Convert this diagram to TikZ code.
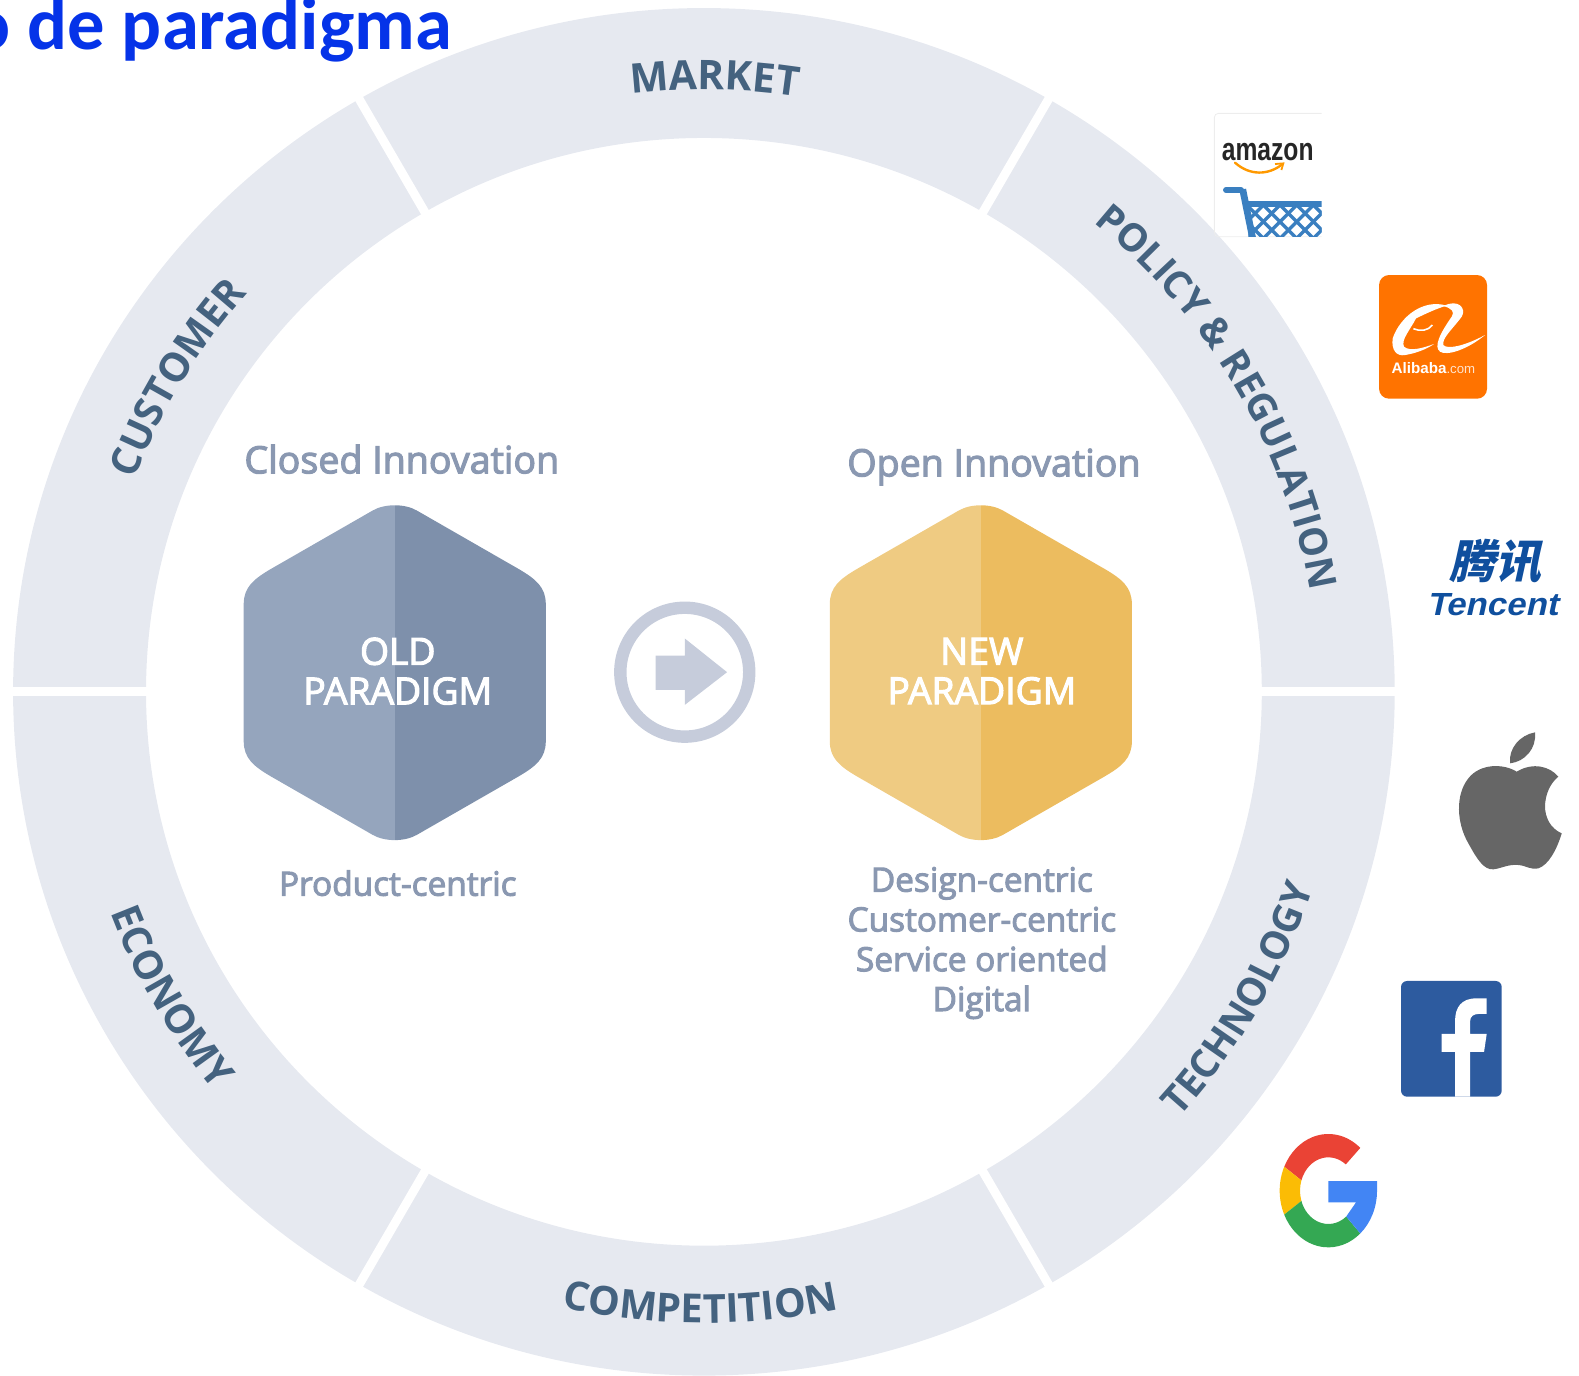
\documentclass[tikz,border=0pt]{standalone}
\usepackage{fontspec}
\usetikzlibrary{decorations.text}
\setmainfont{Open Sans}
\newfontfamily\capfont[FakeBold=3]{Open Sans}
\newfontfamily\titlefont{Carlito}
\newfontfamily\azfont[FakeStretch=0.77]{Liberation Sans}
\newfontfamily\alifont{Liberation Sans}
\newfontfamily\tenfont[FakeSlant=0.22,FakeStretch=1.09]{Liberation Sans}
\newfontfamily\cjkfont[FakeSlant=0.22]{Noto Sans CJK SC}
\definecolor{ringc}{HTML}{E6E9F0}
\definecolor{ringt}{HTML}{44627F}
\definecolor{capc}{HTML}{8A98B1}
\definecolor{oldl}{HTML}{95A5BD}
\definecolor{oldr}{HTML}{7E90AB}
\definecolor{newl}{HTML}{EFCB82}
\definecolor{newr}{HTML}{ECBC5F}
\definecolor{arrc}{HTML}{C6CCDB}
\definecolor{titlec}{HTML}{0533E8}
\definecolor{azblue}{HTML}{3A7FC0}
\definecolor{aliorg}{HTML}{FF7300}
\definecolor{tenblue}{HTML}{0F4F9E}
\definecolor{fbblue}{HTML}{2D5B9F}
\definecolor{gred}{HTML}{EA4335}
\definecolor{gyel}{HTML}{FBBC05}
\definecolor{ggrn}{HTML}{34A853}
\definecolor{gblu}{HTML}{4285F4}
\tikzset{
  ringtext/.style n args={2}{decorate,decoration={text along path,text align=center,text={|\fontsize{#1}{#1}\selectfont\bfseries\color{ringt}|#2}}},
  capt/.style={text=capc,font=\capfont\fontsize{16.7}{19.9}\selectfont,align=center,inner sep=0pt},
  capbig/.style={text=capc,font=\capfont\fontsize{18.8}{20}\selectfont,inner sep=0pt,anchor=base},
  hextext/.style={text=white,font=\capfont\fontsize{18.6}{19.8}\selectfont,align=center,inner sep=0pt},
  zoomA/.style={shift={(1171.8,89.4)},x=.16667pt,y=-.16667pt},
  zoomB/.style={shift={(1370.4,496.5)},x=.16667pt,y=-.16667pt},
  zoomC/.style={shift={(1241.3,953.3)},x=.16667pt,y=-.16667pt},
}
\newcommand{\hexpath}[2]{(#1-22,#2-161) .. controls (#1-10,#2-168) and (#1+10,#2-168) .. (#1+22,#2-161) -- (#1+123,#2-103) .. controls (#1+140,#2-93) and (#1+150,#2-85) .. (#1+150,#2-68) -- (#1+150,#2+68) .. controls (#1+150,#2+85) and (#1+140,#2+93) .. (#1+123,#2+103) -- (#1+22,#2+161) .. controls (#1+10,#2+168) and (#1-10,#2+168) .. (#1-22,#2+161) -- (#1-123,#2+103) .. controls (#1-140,#2+93) and (#1-150,#2+85) .. (#1-150,#2+68) -- (#1-150,#2-68) .. controls (#1-150,#2-85) and (#1-140,#2-93) .. (#1-123,#2-103) -- cycle}
\begin{document}
\begin{tikzpicture}[x=.5035pt,y=-.5035pt]
\useasboundingbox (0,0) rectangle (1568,1365.6);
\clip (0,0) rectangle (1568,1365.6);
\coordinate (c) at (699,687);
% ring
\fill[ringc,even odd rule] (c) ellipse [x radius=686,y radius=679] (c) ellipse [x radius=554,y radius=550];
\foreach \a in {0,60,120,180,240,300}
  \draw[white,line width=4.4pt] ([shift={(c)}]\a:530 and 526) -- ([shift={(c)}]\a:705 and 700);
% ring labels
\path[ringtext={20.4}{MARKET}] ([shift={(c)}]-122:604 and 598) arc[start angle=-122,end angle=-56,x radius=604,y radius=598];
\path[ringtext={19.3}{POLICY {\&} REGULATION}] ([shift={(c)}]-70:610 and 603) arc[start angle=-70,end angle=10,x radius=610,y radius=603];
\path[ringtext={19.5}{TECHNOLOGY}] ([shift={(c)}]65:636 and 630) arc[start angle=65,end angle=-5,x radius=636,y radius=630];
\path[ringtext={20}{COMPETITION}] ([shift={(c)}]125.3:634 and 627) arc[start angle=125.3,end angle=55.3,x radius=634,y radius=627];
\path[ringtext={20}{ECONOMY}] ([shift={(c)}]175:630 and 623) arc[start angle=175,end angle=125,x radius=630,y radius=623];
\path[ringtext={20}{CUSTOMER}] ([shift={(c)}]-174:604 and 598) arc[start angle=-174,end angle=-124,x radius=604,y radius=598];
% title
\node[anchor=base east,inner sep=0pt,text=titlec,font=\titlefont\bfseries\fontsize{37.3}{37}\selectfont] (title) at (449,49) {o de paradigma};
% old hexagon
\begin{scope}
  \clip \hexpath{392}{668};
  \fill[oldl] (200,450) rectangle (392,900);
  \fill[oldr] (392,450) rectangle (600,900);
\end{scope}
\node[hextext] (old) at (395,666.5) {OLD\\PARADIGM};
% new hexagon
\begin{scope}
  \clip \hexpath{974}{668};
  \fill[newl] (780,450) rectangle (974,900);
  \fill[newr] (974,450) rectangle (1180,900);
\end{scope}
\node[hextext] (new) at (975,666.5) {NEW\\PARADIGM};
% arrow
\draw[arrc,line width=6.2pt] (680,667.5) ellipse [x radius=64,y radius=64];
\fill[arrc] (651,651) -- (680,651) -- (680,634) -- (722,667.5) -- (680,700) -- (680,685) -- (651,685) -- cycle;
% captions
\node[capbig] (closed) at (399,470) {Closed Innovation};
\node[capbig] (open) at (987,473) {Open Innovation};
\node[capt] (prod) at (395,877) {Product-centric};
\node[capt] (design) at (975,936.5) {Design-centric\\Customer-centric\\Service oriented\\Digital};
% amazon
\begin{scope}[zoomA]
  \draw[black!7,line width=.4pt,rounded corners=2pt] (425,70) -- (103,70) -- (103,440) -- (425,440);
  \node[inner sep=0pt,text=black!85,font=\azfont\bfseries\fontsize{16}{16}\selectfont] (amazon) at (263,186) {amazon};
  \draw[orange!80!yellow,line width=1.2pt,line cap=round] (165,218) .. controls (210,258) and (265,255) .. (305,224);
  \draw[orange!80!yellow,line width=.9pt] (285,222) -- (310,220) -- (304,240);
  \begin{scope}
    \clip (103,280) rectangle (425,440);
    \draw[azblue,line width=3pt,line cap=round] (138,300) -- (183,300);
    \draw[azblue,line width=3.4pt] (188,298) -- (218,445);
    \fill[azblue] (190,332) rectangle (425,350);
    \begin{scope}
      \clip (205,345) rectangle (425,440);
      \foreach \k in {0,1,...,10} {
        \draw[azblue,line width=1.7pt] (150+\k*50,345) -- (250+\k*50,445);
        \draw[azblue,line width=1.7pt] (250+\k*50,345) -- (150+\k*50,445);
      }
    \end{scope}
  \end{scope}
\end{scope}
% alibaba
\begin{scope}[zoomA]
  \fill[aliorg,rounded corners=5pt] (597,555) rectangle (921,926);
  \fill[white] (800,647) .. controls (730,625) and (660,680) .. (638,745) .. controls (633,780) and (650,800) .. (675,795) .. controls (705,790) and (735,780) .. (762,762) .. controls (725,775) and (690,785) .. (672,770) .. controls (662,750) and (690,720) .. (708,685) .. controls (735,672) and (770,655) .. (800,647) -- cycle;
  \fill[white] (790,648) .. controls (835,625) and (860,655) .. (845,680) .. controls (815,720) and (785,745) .. (790,765) .. controls (800,778) and (850,770) .. (915,735) .. controls (860,780) and (800,798) .. (780,785) .. controls (760,770) and (780,730) .. (815,680) .. controls (825,665) and (815,655) .. (790,648) -- cycle;
  \draw[white,line width=.8pt] (700,716) .. controls (720,725) and (745,722) .. (757,705);
  \node[inner sep=0pt,text=white,font=\alifont\fontsize{7.6}{8}\selectfont] (alibaba) at (760,835) {\bfseries Alibaba{\mdseries\fontsize{6.6}{8}\selectfont\color{white!80!aliorg}.com}};
\end{scope}
% tencent
\begin{scope}[zoomB]
  \node[inner sep=0pt,text=tenblue,font=\cjkfont\bfseries\fontsize{23}{23}\selectfont] (tenzh) at (345,185) {腾讯};
  \node[inner sep=0pt,text=tenblue,font=\tenfont\bfseries\fontsize{16}{16}\selectfont] (tenen) at (337,315) {Tencent};
  % apple
  \fill[black!60] (410,815) .. controls (370,790) and (300,790) .. (265,835) .. controls (225,885) and (230,970) .. (265,1030) .. controls (290,1075) and (310,1110) .. (340,1108) .. controls (365,1105) and (385,1092) .. (415,1095) .. controls (440,1097) and (450,1110) .. (475,1105) .. controls (505,1095) and (530,1050) .. (545,1000) .. controls (510,985) and (495,950) .. (495,920) .. controls (495,885) and (510,850) .. (535,830) .. controls (510,800) and (460,785) .. (410,815) -- cycle;
  \fill[black!60] (390,790) .. controls (385,745) and (420,705) .. (465,697) .. controls (470,745) and (435,785) .. (390,790) -- cycle;
\end{scope}
% facebook
\begin{scope}[zoomC]
  \fill[fbblue,rounded corners=3pt] (453,63) rectangle (755,410);
  \fill[white] (660,410) -- (660,276) -- (702,276) -- (710,222) -- (660,222) -- (660,185) .. controls (660,168) and (672,162) .. (685,162) -- (710,162) -- (710,115) -- (680,115) .. controls (635,115) and (615,140) .. (615,185) -- (615,222) -- (575,222) -- (575,276) -- (615,276) -- (615,410) -- cycle;
  % google
  \fill[gred] ([shift={(235,692)}]-49:146 and 170) arc[start angle=-49,end angle=-155,x radius=146,y radius=170] -- ([shift={(235,692)}]-162:85 and 100) arc[start angle=-162,end angle=-52,x radius=85,y radius=100] -- cycle;
  \fill[gyel] ([shift={(235,692)}]-155:146 and 170) arc[start angle=-155,end angle=-205,x radius=146,y radius=170] -- ([shift={(235,692)}]-198:85 and 100) arc[start angle=-198,end angle=-162,x radius=85,y radius=100] -- cycle;
  \fill[ggrn] ([shift={(235,692)}]-205:146 and 170) arc[start angle=-205,end angle=-311,x radius=146,y radius=170] -- ([shift={(235,692)}]-309:85 and 100) arc[start angle=-309,end angle=-198,x radius=85,y radius=100] -- cycle;
  \fill[gblu] ([shift={(235,692)}]-311:146 and 170) arc[start angle=-311,end angle=-360,x radius=146,y radius=170] -- (381,663) -- (235,663) -- (235,727) -- (318,727) -- ([shift={(235,692)}]-309:85 and 100) -- cycle;
\end{scope}
\end{tikzpicture}
\end{document}
